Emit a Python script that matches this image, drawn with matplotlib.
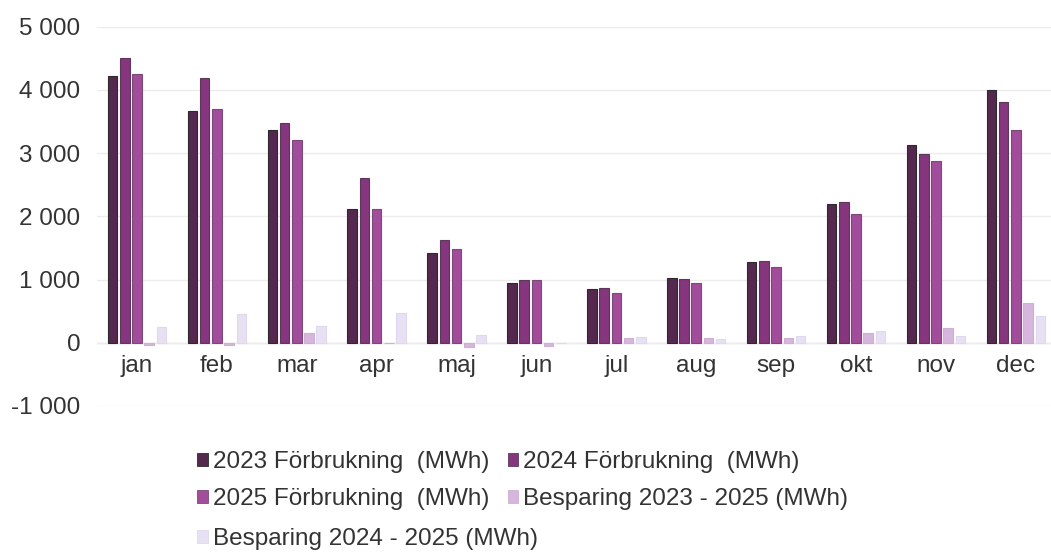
import numpy as np
import matplotlib.pyplot as plt
from matplotlib.ticker import FuncFormatter
from matplotlib.patches import Patch

plt.rcParams['font.family'] = ['Liberation Sans', 'DejaVu Sans']

months = ['jan', 'feb', 'mar', 'apr', 'maj', 'jun', 'jul', 'aug', 'sep', 'okt', 'nov', 'dec']
use_2023 = [4210, 3660, 3360, 2120, 1420, 950, 850, 1020, 1280, 2200, 3120, 4000]
use_2024 = [4500, 4180, 3470, 2600, 1620, 1000, 870, 1010, 1300, 2230, 2990, 3800]
use_2025 = [4250, 3700, 3210, 2120, 1490, 1000, 780, 950, 1200, 2040, 2880, 3370]
save_23_25 = [-40, -40, 150, 0, -70, -50, 70, 70, 80, 160, 240, 630]
save_24_25 = [250, 460, 260, 470, 120, 0, 90, 60, 100, 190, 110, 430]

labels = ['2023 Förbrukning  (MWh)', '2024 Förbrukning  (MWh)',
          '2025 Förbrukning  (MWh)', 'Besparing 2023 - 2025 (MWh)',
          'Besparing 2024 - 2025 (MWh)']
colors = ['#55284f', '#86357f', '#a24c9c', '#d7b6dd', '#e8e1f3']
edges = ['#2a2a2a', '#5a3a58', '#7a4a76', '#cdb0d4', '#e0d8ee']

series = [use_2023, use_2024, use_2025, save_23_25, save_24_25]

fig = plt.figure(figsize=(10.51, 5.55), dpi=100)
ax = fig.add_axes([97 / 1051, 1 - 406 / 555, 954 / 1051, (406 - 26.5) / 555])

x = np.arange(len(months))
step = 0.153
width = 0.12
for i, vals in enumerate(series):
    ax.bar(x + (i - 2) * step, vals, width, color=colors[i],
           edgecolor=edges[i], linewidth=0.8, zorder=3)

ax.set_xlim(-0.5, -0.5 + 954 / 79.9)
ax.set_ylim(-1000, 5000)
ax.set_yticks(range(-1000, 5001, 1000))
ax.yaxis.set_major_formatter(FuncFormatter(lambda v, p: f'{int(v):,}'.replace(',', ' ')))
ax.grid(axis='y', color='#ececec', linewidth=1, zorder=0)

ax.spines['bottom'].set_position(('data', 0))
for s in ['top', 'right', 'left', 'bottom']:
    ax.spines[s].set_visible(False)
ax.axhline(0, color='#e4e4e4', linewidth=1, zorder=1)

ax.set_xticks(x)
ax.set_xticklabels(months)
ax.tick_params(axis='both', length=0, labelsize=17.5, labelcolor='#333333')
ax.tick_params(axis='y', pad=12)
ax.tick_params(axis='x', pad=9)

handles = [Patch(facecolor=colors[i], edgecolor=edges[i], linewidth=0.6) for i in range(5)]
leg_kw = dict(loc='upper left', frameon=False, fontsize=17.5, labelcolor='#333333',
              handlelength=0.45, handleheight=0.45, handletextpad=0.2,
              labelspacing=0.62, borderpad=0)
order = [0, 2, 1, 3]
fig.legend([handles[i] for i in order], [labels[i] for i in order], ncol=2,
           columnspacing=0.75, bbox_to_anchor=(185 / 1051, 1 - 439 / 555), **leg_kw)
fig.legend([handles[4]], [labels[4]],
           bbox_to_anchor=(185 / 1051, 1 - 516 / 555), **leg_kw)

fig.savefig('out.png', dpi=100, facecolor='white')
